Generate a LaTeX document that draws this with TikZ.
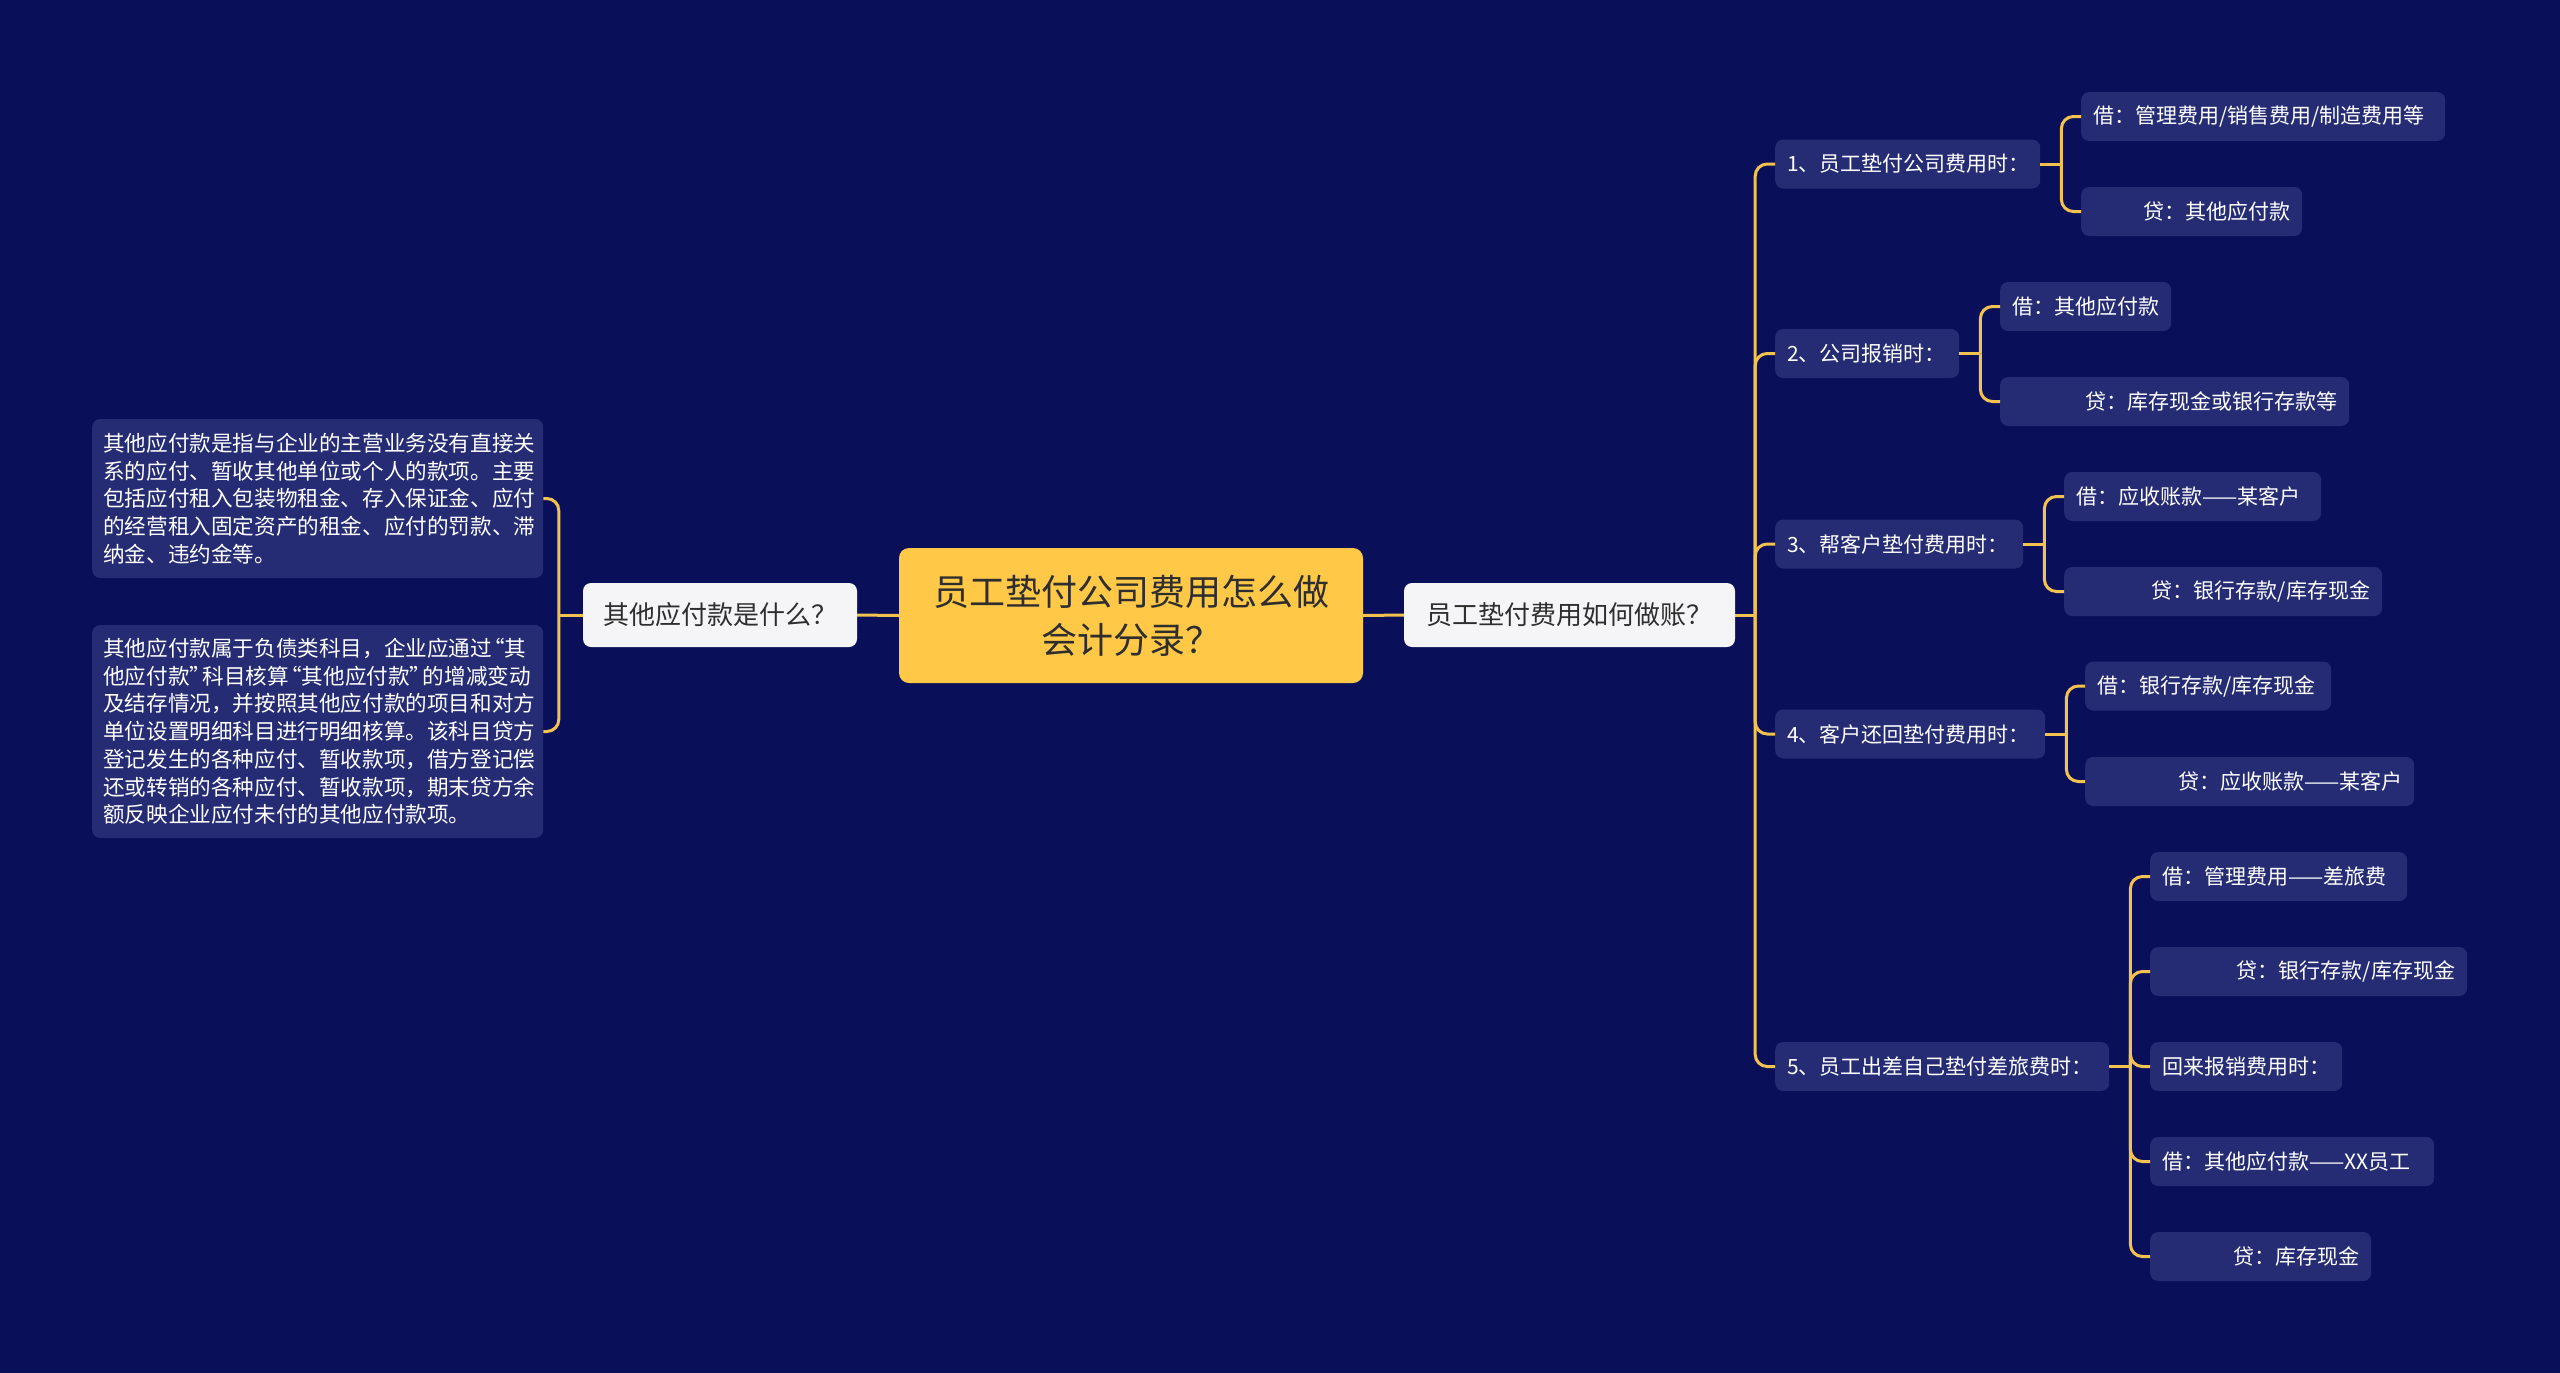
\documentclass[tikz,border=0pt]{standalone}
\usepackage{fontspec}
\setmainfont{Noto Sans CJK SC}
\definecolor{bg}{HTML}{0A0F5A}
\definecolor{boxc}{HTML}{252C74}
\definecolor{lnc}{HTML}{F3C24F}
\definecolor{cen}{HTML}{FFC847}
\definecolor{lone}{HTML}{F5F5F7}
\definecolor{dtext}{HTML}{2E2E2E}
\newcommand\myoq{\kern-0.4em“}
\newcommand\mycq{”\kern-0.4em}
\tikzset{
  conn/.style={draw=lnc, line width=3pt, rounded corners=12pt},
  rootbox/.style={fill=cen, rounded corners=10pt, text=dtext, font=\fontsize{36}{48}\selectfont, minimum width=464pt, minimum height=135pt, align=center, inner sep=0pt},
  lonebox/.style={fill=lone, rounded corners=8pt, text=dtext, font=\fontsize{26}{30}\selectfont, minimum height=64pt, inner xsep=14pt, inner ysep=0pt},
  leafbox/.style={fill=boxc, rounded corners=8pt, text=white, font=\fontsize{21}{24}\selectfont, minimum height=49pt, inner xsep=12pt, inner ysep=0pt, anchor=west, align=left},
  rleaf/.style={leafbox, align=right},
  descbox/.style={fill=boxc, rounded corners=8pt, text=white, font=\fontsize{21.6}{27.75}\selectfont, inner xsep=11pt, inner ysep=0pt, text width=429pt, align=left, anchor=west}
}
\begin{document}
\begin{tikzpicture}[x=1pt,y=-1pt]
\fill[bg] (0,0) rectangle (2560,1373);
\useasboundingbox (0,0) rectangle (2560,1373);

% central and level 1
\node[rootbox] (root) at (1131,615.5) {员工垫付公司费用怎么做\\会计分录？};
\node[lonebox, minimum width=274pt] (q1) at (720,615) {其他应付款是什么？};
\node[lonebox, minimum width=331pt] (q2) at (1569.5,615) {员工垫付费用如何做账？};

% left descriptions
\node[descbox, minimum height=159pt] (d1) at (92,498.5) {其他应付款是指与企业的主营业务没有直接关\\系的应付、暂收其他单位或个人的款项。主要\\包括应付租入包装物租金、存入保证金、应付\\的经营租入固定资产的租金、应付的罚款、滞\\纳金、违约金等。};
\node[descbox, minimum height=213pt] (d2) at (92,731.5) {其他应付款属于负债类科目，企业应通过\myoq 其\\他应付款\mycq 科目核算\myoq 其他应付款\mycq 的增减变动\\及结存情况，并按照其他应付款的项目和对方\\单位设置明细科目进行明细核算。该科目贷方\\登记发生的各种应付、暂收款项，借方登记偿\\还或转销的各种应付、暂收款项，期末贷方余\\额反映企业应付未付的其他应付款项。};

% level 2
\node[leafbox, text width=241pt] (s1) at (1775,164) {1、员工垫付公司费用时：};
\node[leafbox, text width=160pt] (s2) at (1775,353.5) {2、公司报销时：};
\node[leafbox, text width=224pt] (s3) at (1775,544) {3、帮客户垫付费用时：};
\node[leafbox, text width=246pt] (s4) at (1775,734) {4、客户还回垫付费用时：};
\node[leafbox, text width=310pt] (s5) at (1775,1066.5) {5、员工出差自己垫付差旅费时：};

% leaves
\node[leafbox, text width=340pt] (s1a) at (2081,116.5) {借：管理费用/销售费用/制造费用等};
\node[rleaf, text width=197pt] (s1b) at (2081,211.5) {贷：其他应付款};
\node[leafbox, text width=147pt] (s2a) at (2000,306.5) {借：其他应付款};
\node[rleaf, text width=325pt] (s2b) at (2000,401.5) {贷：库存现金或银行存款等};
\node[leafbox, text width=233pt] (s3a) at (2064,496.5) {借：应收账款——某客户};
\node[rleaf, text width=294pt] (s3b) at (2064,591.5) {贷：银行存款/库存现金};
\node[leafbox, text width=222pt] (s4a) at (2085,686) {借：银行存款/库存现金};
\node[rleaf, text width=305pt] (s4b) at (2085,781.5) {贷：应收账款——某客户};
\node[leafbox, text width=233pt] (s5a) at (2150,876.5) {借：管理费用——差旅费};
\node[rleaf, text width=293pt] (s5b) at (2150,971.5) {贷：银行存款/库存现金};
\node[leafbox, text width=168pt] (s5c) at (2150,1066.5) {回来报销费用时：};
\node[leafbox, text width=260pt] (s5d) at (2150,1161.5) {借：其他应付款——XX员工};
\node[rleaf, text width=197pt] (s5e) at (2150,1256.5) {贷：库存现金};

% connectors: center
\draw[conn] (root.west) -- (q1.east);
\draw[conn] (root.east) -- (q2.west);

% left bracket
\coordinate (jL) at ([xshift=-24pt]q1.west);
\draw[conn] (q1.west) -- (jL);
\draw[conn] (jL) |- (d1.east);
\draw[conn] (jL) |- (d2.east);

% right main
\coordinate (jR) at ([xshift=20pt]q2.east);
\draw[conn] (q2.east) -- (jR);
\foreach \s in {s1,s2,s3,s4,s5} { \draw[conn] (jR) |- (\s.west); }

% sub brackets
\coordinate (j1) at ([xshift=21pt]s1.east);
\draw[conn] (s1.east) -- (j1);
\draw[conn] (j1) |- (s1a.west);
\draw[conn] (j1) |- (s1b.west);

\coordinate (j2) at ([xshift=21pt]s2.east);
\draw[conn] (s2.east) -- (j2);
\draw[conn] (j2) |- (s2a.west);
\draw[conn] (j2) |- (s2b.west);

\coordinate (j3) at ([xshift=21pt]s3.east);
\draw[conn] (s3.east) -- (j3);
\draw[conn] (j3) |- (s3a.west);
\draw[conn] (j3) |- (s3b.west);

\coordinate (j4) at ([xshift=21pt]s4.east);
\draw[conn] (s4.east) -- (j4);
\draw[conn] (j4) |- (s4a.west);
\draw[conn] (j4) |- (s4b.west);

\coordinate (j5) at ([xshift=21pt]s5.east);
\draw[conn] (s5.east) -- (j5);
\foreach \s in {s5a,s5b,s5c,s5d,s5e} { \draw[conn] (j5) |- (\s.west); }
\end{tikzpicture}
\end{document}
